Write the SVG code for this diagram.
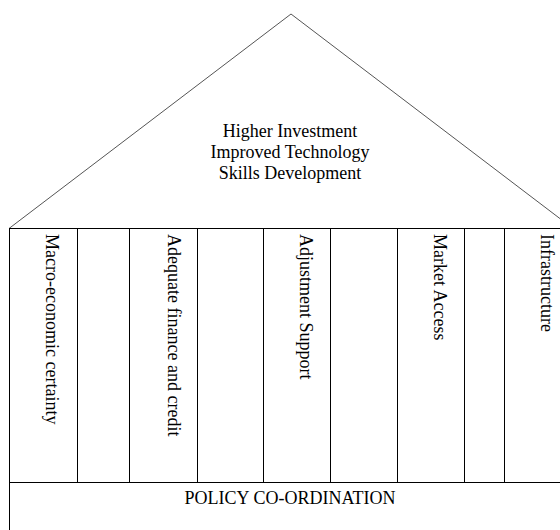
<svg xmlns="http://www.w3.org/2000/svg" width="560" height="530" viewBox="0 0 560 530">
<style>
.ln{stroke:#000;stroke-width:1;fill:none}
.roof{stroke:#555;stroke-width:1;fill:none}
.t{font-family:"Liberation Serif","Times New Roman",serif;font-size:18px;fill:#000}
.c{text-anchor:middle}
</style>
<rect x="0" y="0" width="560" height="530" fill="#fff"/>
<g id="roof">
<polyline class="roof" points="9,228.5 291,14 573,228.5"/>
<text class="t c" x="290" y="137">Higher Investment</text>
<text class="t c" x="290" y="158">Improved Technology</text>
<text class="t c" x="290" y="178.5">Skills Development</text>
</g>
<g id="frame">
<rect class="ln" x="9.5" y="228.5" width="560" height="320"/>
<line class="ln" x1="9" y1="482.5" x2="560" y2="482.5"/>
</g>
<g id="connectors">
<line class="ln" x1="77.5" y1="228.5" x2="77.5" y2="482.5"/>
<line class="ln" x1="129.5" y1="228.5" x2="129.5" y2="482.5"/>
<line class="ln" x1="197.5" y1="228.5" x2="197.5" y2="482.5"/>
<line class="ln" x1="263.5" y1="228.5" x2="263.5" y2="482.5"/>
<line class="ln" x1="330.5" y1="228.5" x2="330.5" y2="482.5"/>
<line class="ln" x1="397.5" y1="228.5" x2="397.5" y2="482.5"/>
<line class="ln" x1="464.5" y1="228.5" x2="464.5" y2="482.5"/>
<line class="ln" x1="504.5" y1="228.5" x2="504.5" y2="482.5"/>
</g>
<g id="pillar1"><text class="t" transform="translate(46,234) rotate(90)">Macro-economic certainty</text></g>
<g id="pillar2"><text class="t" transform="translate(168,234) rotate(90)">Adequate finance and credit</text></g>
<g id="pillar3"><text class="t" transform="translate(300,234) rotate(90)">Adjustment Support</text></g>
<g id="pillar4"><text class="t" transform="translate(434,234) rotate(90)">Market Access</text></g>
<g id="pillar5"><text class="t" transform="translate(541,234) rotate(90)">Infrastructure</text></g>
<g id="base"><text class="t c" x="290" y="504">POLICY CO-ORDINATION</text></g>
</svg>
